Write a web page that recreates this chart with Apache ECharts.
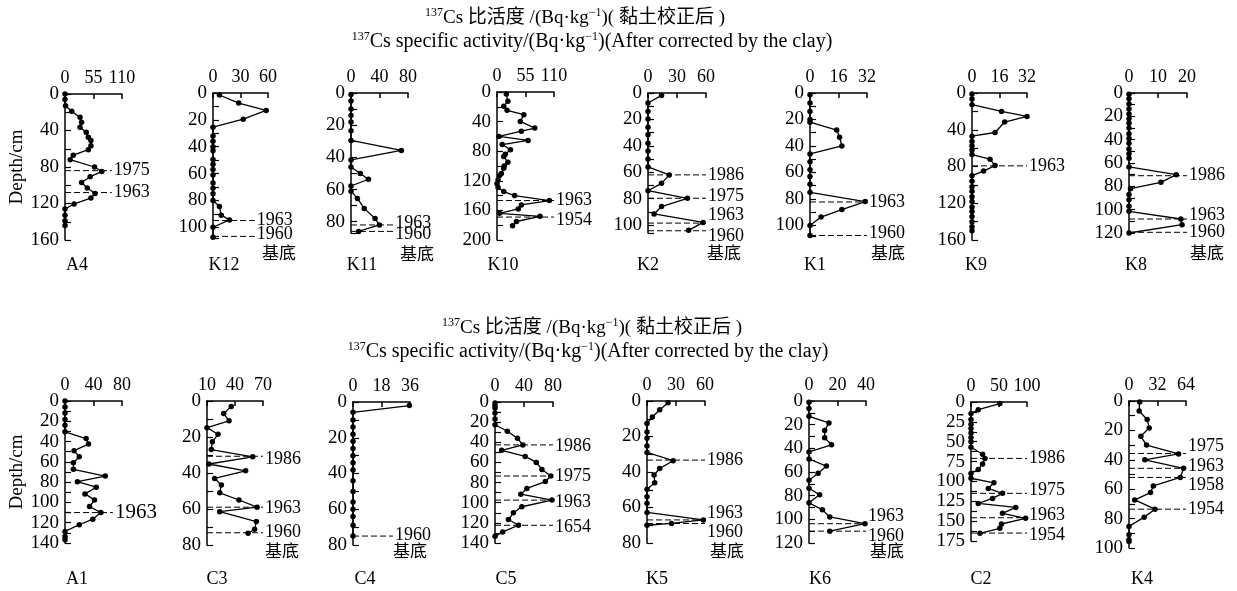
<!DOCTYPE html>
<html>
<head>
<meta charset="utf-8">
<title>137Cs 比活度剖面</title>
<script src="https://cdn.jsdelivr.net/npm/echarts@6.0.0/dist/echarts.min.js"></script>
<style>
  html, body { margin: 0; padding: 0; background: #fff; }
  #chart { width: 1237px; height: 591px; }
</style>
</head>
<body>
<div id="chart"></div>
<script>
  // 剖面名称（上排 8 个，下排 8 个）
  const panelNames = ['A4', 'K12', 'K11', 'K10', 'K2', 'K1', 'K9', 'K8',
                      'A1', 'C3', 'C4', 'C5', 'K5', 'K6', 'C2', 'K4']

  // 横轴（比活度）范围，刻度取 min / 中值 / max
  const xMin = [0, 0, 0, 0, 0, 0, 0, 0, 0, 10, 0, 0, 0, 0, 0, 0]
  const xMax = [110, 60, 80, 110, 60, 32, 32, 20, 80, 70, 36, 80, 60, 40, 100, 64]
  // 纵轴（深度）范围与标注间隔
  const depthMax = [160, 108, 87, 200, 106, 108, 160, 120, 140, 80, 80, 140, 80, 120, 175, 100]
  const depthStep = [40, 20, 20, 40, 20, 20, 40, 20, 20, 20, 20, 20, 20, 20, 25, 20]

  // 各剖面：深度 / cm 与比活度
  const depthA4 = [0, 6, 13, 19, 25.6, 31, 36.5, 42, 47.5, 51, 56.6, 61, 67, 72, 80, 85, 90.6, 97, 103, 109, 114, 120.5, 126, 133, 139, 144]
  const actA4 = [0, 0, 1, 13, 29, 32, 29, 41, 45, 50, 50, 45, 16, 10, 57, 71, 48.5, 32, 43, 58, 50, 17.5, 0, 0, 0, 0]
  const depthK12 = [1.5, 7.5, 13, 19.5, 25.5, 32, 36, 40, 43, 49.5, 53, 57, 61, 67, 71, 75, 80, 84.5, 91, 94.5, 100, 107.5]
  const actK12 = [7, 28, 58, 33, 0, 0, 0, 0, 0, 0, 0, 0, 0, 0, 0, 0, 0, 7, 9, 18, 0, 0]
  const depthK11 = [1, 5, 10, 14, 18, 23.5, 29.5, 35.7, 41.6, 46, 50, 53.6, 57.8, 61, 65.5, 71.7, 78, 82, 86]
  const actK11 = [0, 0, 0, 0, 0, 0, 0, 70.7, 0, 0, 13, 24.5, 0, 0, 9, 18.5, 33.8, 39.8, 10.6]
  const depthK10 = [2.7, 12.6, 19.4, 24.8, 30.7, 39.7, 48.8, 53, 60, 65.5, 71, 78, 84, 87, 95, 100, 103, 110, 113, 119, 124, 129, 134.5, 140, 146.7, 152.6, 158, 164, 168, 175, 180.6]
  const actK10 = [18, 21, 13, 19.4, 51.8, 45, 73, 47, 4, 60, 10, 26, 16, 13, 21, 14, 13, 8.4, 5, 2, 0, 2, 13, 34, 101, 47, 41, 5, 83, 37.5, 30]
  const depthK2 = [1.8, 7.6, 14, 19.7, 26, 31.6, 38, 44, 50, 56, 62, 68.4, 74, 79.7, 86, 91.6, 98, 104]
  const actK2 = [14, 0, 0, 0, 0, 0, 0, 0, 0, 0, 22, 14, 0, 40.8, 14, 6.3, 57, 42]
  const depthK1 = [1.3, 7.6, 14, 20, 22, 28, 33.4, 40, 46, 52, 58, 63, 69, 75, 82, 88, 93.7, 100, 107.6]
  const actK1 = [0, 0, 0, 0, 0, 15, 16.6, 17.9, 0, 0, 0, 0, 0, 0, 31, 17.9, 6.2, 0, 0]
  const depthK9 = [1, 6.5, 12.7, 20, 25.5, 31.6, 43, 47, 52.7, 57.5, 62, 67, 72, 79, 85, 90, 96, 102, 107, 113, 118, 124, 129, 134.5, 140, 145.5, 150]
  const actK9 = [0, 0, 0, 17.2, 32, 19, 13.4, 0, 0, 0, 0, 0, 10.5, 13.4, 6.7, 0, 0, 0, 0, 0, 0, 0, 0, 0, 0, 0, 0]
  const depthK8 = [1, 5, 9.4, 13.7, 18, 22, 26, 30, 35, 39, 43, 48, 52, 56, 63.4, 70, 76.6, 82, 87, 91.4, 97, 101.4, 108, 112.9, 120]
  const actK8 = [0, 0, 0, 0, 0, 0, 0, 0, 0, 0, 0, 0, 0, 0, 0, 16.3, 11, 0.5, 0, 0, 0, 0, 17.9, 18.3, 0]
  const depthA1 = [0, 5.9, 11.8, 18.3, 23.9, 30.4, 37, 42.5, 49, 55, 60.8, 67.4, 74, 79.5, 85, 91.6, 97.5, 104, 110, 116.5, 122, 128.6, 133.5, 136.7]
  const actA1 = [0, 0, 0, 0, 0, 0, 29.6, 33, 12.7, 20, 11.8, 11.8, 56.5, 17.4, 43.8, 28, 41.4, 34.4, 50.4, 39, 20, 0, 0, 0]
  const depthC3 = [3, 7, 11, 14.8, 18.5, 22.7, 27, 31, 35, 38.8, 43, 46.7, 51, 55, 59, 61.5, 67, 71.3, 73.5]
  const actC3 = [36, 27.9, 33.6, 10, 21.8, 15.7, 14.6, 59, 12, 51.4, 18.2, 25.4, 23.6, 44.3, 63.6, 23.6, 62.9, 61, 54]
  const depthC4 = [2, 5.8, 10, 14, 18, 22, 26, 30, 34, 38, 44, 50, 56, 60, 64, 69, 75]
  const actC4 = [35.6, 0, 0, 0, 0, 0, 0, 0, 0, 0, 0, 0, 0, 0, 0, 0, 0]
  const depthC5 = [1, 3.7, 6, 11, 17, 22.6, 29, 36, 42.6, 48, 54, 60, 67, 73.5, 79, 85.8, 91.5, 97.4, 104, 110, 116.7, 122.4, 129, 133.4]
  const actC5 = [0, 0, 0, 0, 0, 0, 17, 31, 38.4, 9.2, 41.6, 57, 64.7, 77, 69.4, 44, 35.6, 78.6, 37, 25.4, 18.5, 32.4, 10.6, 0]
  const depthK5 = [1, 4.9, 9, 12.7, 17.4, 21, 25.4, 29, 33.6, 38, 41.7, 46, 49.7, 54, 57.6, 62.8, 67, 69, 70]
  const actK5 = [21.8, 13.2, 5.5, 0, 0, 0, 0, 0, 27, 13.2, 7.3, 8, 0, 0, 0, 0, 58.3, 25.3, 0]
  const depthK6 = [1, 6.4, 12.9, 18.5, 25, 31, 37, 43, 49, 55, 61, 67, 73.7, 79.3, 86, 92, 98, 103.7, 110]
  const actK6 = [0, 0, 0, 14, 11, 11, 15.8, 0, 0, 12.2, 6.4, 0, 0, 7.5, 0, 9.4, 14.6, 39.3, 14.6]
  const depthC2 = [2, 9.6, 14.6, 22, 28, 33.5, 39, 44.8, 50, 57, 65.7, 71, 78, 85, 90, 96, 101.7, 108.8, 115, 121.4, 127.7, 132.7, 140.2, 146.5, 153.6, 159, 165.3]
  const actC2 = [51.5, 13, 0, 0, 0, 0, 0, 0, 0, 0, 20.7, 24.9, 20.7, 13, 0, 0, 40.8, 30.8, 56.2, 38.5, 13, 79.9, 56.2, 97.6, 54.4, 51.5, 16]
  const depthK4 = [0.7, 6.8, 12.6, 18.3, 24, 30, 36, 40, 45.8, 52, 57.8, 62.3, 67.3, 73.6, 79, 85.3, 91, 94.4, 95.5]
  const actK4 = [12, 11.4, 20.4, 22.7, 13.3, 19.7, 55.7, 17.8, 61.3, 57.6, 27.3, 24.2, 6.4, 29.2, 17, 0, 0, 0, 0]

  // 定年层位：年份与对应深度
  const yearsByPanel = [[1975, 1963], [1963, 1960], [1963, 1960], [1963, 1954],
                        [1986, 1975, 1963, 1960], [1963, 1960], [1963], [1986, 1963, 1960],
                        [1963], [1986, 1963, 1960], [1960], [1986, 1975, 1963, 1654],
                        [1986, 1963, 1960], [1963, 1960], [1986, 1975, 1963, 1954], [1975, 1963, 1958, 1954]]
  const horizonDepths = [[84, 108], [95, 106.8], [82, 86], [146.7, 169],
                         [62, 79.7, 98.5, 104.3], [82.3, 107.6], [79.3], [70.9, 108, 119.4],
                         [110], [30.7, 59, 73.2], [75], [42.6, 73.5, 97.4, 122.4],
                         [33.3, 67, 69], [103.7, 110], [71, 115, 145.7, 165], [35.7, 45.8, 52, 73.6]]

  const depths = [depthA4, depthK12, depthK11, depthK10, depthK2, depthK1, depthK9, depthK8,
                  depthA1, depthC3, depthC4, depthC5, depthK5, depthK6, depthC2, depthK4]
  const acts = [actA4, actK12, actK11, actK10, actK2, actK1, actK9, actK8,
                actA1, actC3, actC4, actC5, actK5, actK6, actC2, actK4]

  // ---- 版面 ----
  const gridLeft = [65, 213, 351, 497, 648, 810, 972, 1129, 65, 207, 353, 495, 647, 809, 971, 1129]
  const gridWidth = [57, 55, 57, 57, 58, 57, 55, 58, 57, 56, 57, 58, 58, 57, 56, 57]
  const gridTop = [94, 93, 93, 92, 93, 93, 93, 93, 401, 401, 402, 402, 401, 401, 402, 401]
  const gridHeight = [146, 145, 140, 148, 140, 143, 147, 140, 142, 144, 143, 141, 142, 142, 139, 147]
  const dashReach = [0.82, 0.76, 0.74, 1, 1, 1, 1, 1, 0.84, 1, 0.7, 1, 1, 1, 1, 1]
  const labelShift = [[0, 0], [0, -2], [-2, 3], [0, 3], [0, -2, -8, 6], [0, -2], [0], [0, -4, 0],
                      [0], [3, 1, 0], [-1], [1, 0, 2, 2], [0, -7, 9], [-7, 5], [0, -3, -2, 2], [-7, -2, 8, 0]]
  const nameX = [77, 224, 362, 503, 648, 815, 976, 1136, 77, 217, 365, 506, 657, 820, 981, 1142]
  const basePos = [[279, 255], [417, 256], [724, 255], [888, 255], [1207, 255],
                   [282, 553], [410, 553], [727, 553], [887, 553]]

  const SERIF = "'Liberation Serif', 'Noto Sans CJK SC', serif"
  const INK = '#000'

  let grids = [], xAxes = [], yAxes = [], series = [], graphics = []

  panelNames.forEach(function (name, i) {
    grids.push({ left: gridLeft[i], top: gridTop[i], width: gridWidth[i], height: gridHeight[i] })
    xAxes.push({
      gridIndex: i, type: 'value', position: 'top',
      min: xMin[i], max: xMax[i], interval: (xMax[i] - xMin[i]) / 2,
      axisLine: { lineStyle: { color: INK, width: 1.5 } },
      axisTick: { inside: true, length: 5, lineStyle: { color: INK, width: 1.5 } },
      axisLabel: { color: INK, fontFamily: SERIF, fontSize: 18, margin: 7 },
      splitLine: { show: false }
    })
    const step = depthStep[i]
    yAxes.push({
      gridIndex: i, type: 'value', inverse: true,
      min: 0, max: depthMax[i], interval: step,
      name: (i === 0 || i === 8) ? 'Depth/cm' : '',
      nameLocation: 'middle', nameRotate: 90, nameGap: 38,
      nameTextStyle: { color: INK, fontFamily: SERIF, fontSize: 19 },
      axisLine: { lineStyle: { color: INK, width: 1.5 } },
      axisTick: { inside: true, length: 6, lineStyle: { color: INK, width: 1.2 } },
      minorTick: { show: true, splitNumber: 2, length: 6, lineStyle: { color: INK, width: 1.2 } },
      axisLabel: {
        color: INK, fontFamily: SERIF, fontSize: 19, margin: 6,
        formatter: function (v) { return v % step === 0 ? v : '' }
      },
      splitLine: { show: false }, minorSplitLine: { show: false }
    })
    series.push({
      type: 'line', xAxisIndex: i, yAxisIndex: i, z: 3,
      data: acts[i].map(function (a, k) { return [a, depths[i][k]] }),
      symbol: 'circle', symbolSize: 5.5, showSymbol: true,
      lineStyle: { color: INK, width: 1.3 },
      itemStyle: { color: INK }
    })
    yearsByPanel[i].forEach(function (yr, k) {
      const d = horizonDepths[i][k]
      series.push({
        type: 'line', xAxisIndex: i, yAxisIndex: i, z: 2,
        data: [[xMin[i], d], [xMin[i] + (xMax[i] - xMin[i]) * dashReach[i], d]],
        symbol: 'none', silent: true,
        lineStyle: { color: INK, width: 1, type: [6, 3] },
        endLabel: {
          show: true, formatter: String(yr), distance: 2,
          offset: [0, labelShift[i][k]],
          color: INK, fontFamily: SERIF, fontSize: i === 8 ? 21 : 18
        }
      })
    })
    graphics.push({
      type: 'text', x: nameX[i], y: i < 8 ? 265 : 579,
      style: { text: name, fill: INK, font: '18px ' + SERIF, align: 'center', verticalAlign: 'middle' }
    })
  })

  basePos.forEach(function (p) {
    graphics.push({
      type: 'text', x: p[0], y: p[1],
      style: { text: '基底', fill: INK, font: '17px ' + SERIF, align: 'center', verticalAlign: 'middle' }
    })
  })

  // 标题（两组，上下各一）
  const titleCn = '{sup|137}{n|Cs 比活度 /(Bq·kg}{sup|−1}{n|)( 黏土校正后 )}'
  const titleEn = '{sup|137}{e|Cs specific activity/(Bq·kg}{sup|−1}{e|)(After corrected by the clay)}'
  const titleRich = {
    n: { fontFamily: SERIF, fontSize: 19, lineHeight: 22, fill: INK },
    e: { fontFamily: SERIF, fontSize: 20, lineHeight: 22, fill: INK },
    sup: { fontFamily: SERIF, fontSize: 12, lineHeight: 13, verticalAlign: 'top', fill: INK }
  }
  const titlePos = [[575, 18, titleCn], [592, 42, titleEn], [592, 328, titleCn], [588, 352, titleEn]]
  titlePos.forEach(function (t) {
    graphics.push({
      type: 'text', x: t[0], y: t[1],
      style: { text: t[2], rich: titleRich, fill: INK, align: 'center', verticalAlign: 'middle' }
    })
  })

  let chart = echarts.init(document.getElementById('chart'))
  chart.setOption({
    backgroundColor: '#fff',
    animation: false,
    grid: grids,
    xAxis: xAxes,
    yAxis: yAxes,
    series: series,
    graphic: graphics
  })
</script>
</body>
</html>
